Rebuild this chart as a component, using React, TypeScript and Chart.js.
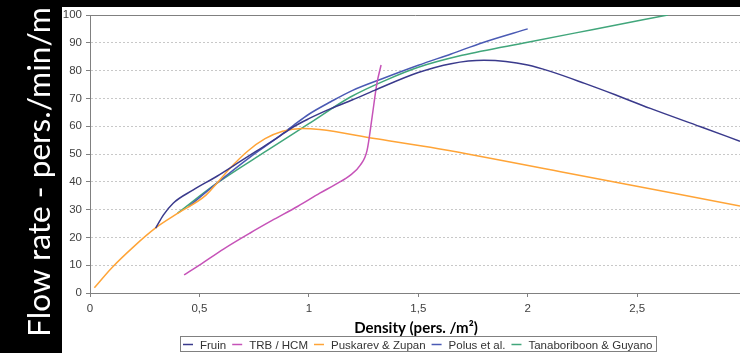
import React, { useEffect, useRef } from 'react';
import { Chart, registerables } from 'chart.js';

Chart.register(...registerables);

// ---- data ----
const seriesLabels = ['Fruin', 'TRB / HCM', 'Puskarev & Zupan', 'Polus et al.', 'Tanaboriboon & Guyano'];
const seriesColors = ['#3a3a8c', '#c653b8', '#ffa437', '#4a5ab4', '#41a67b'];

const fruinX = [0.30, 0.335, 0.38, 0.47, 0.58, 0.69, 0.76, 0.85, 0.93, 1.0, 1.1, 1.2, 1.3, 1.5, 1.65, 1.8, 1.9, 2.0, 2.1, 2.26, 2.4, 2.56, 2.79, 2.97];
const fruinY = [23.3, 28, 32.3, 37, 42, 47.5, 51, 55.5, 59.8, 62.7, 66.3, 69.5, 72.9, 79.3, 82.5, 83.7, 83.3, 82, 79.8, 75.4, 71.3, 66.4, 59.8, 54.6];

const trbX = [0.43, 0.5, 0.61, 0.73, 0.83, 0.95, 1.05, 1.12, 1.19, 1.235, 1.266, 1.289, 1.311, 1.33];
const trbY = [6.5, 10, 15.8, 21.5, 26, 31.2, 35.9, 39, 42.4, 46, 51.3, 63.3, 75.4, 82];

const puskX = [0.02, 0.1, 0.2, 0.3, 0.4, 0.53, 0.58, 0.64, 0.72, 0.8, 0.88, 0.97, 1.05, 1.3, 1.555, 2.15, 2.97];
const puskY = [1.9, 9.1, 16.7, 23.4, 28.6, 35.2, 39.5, 44.9, 51, 55.5, 58.2, 59.2, 58.8, 55.6, 52.4, 43.6, 31.3];

const polusX = [0.45, 0.58, 0.73, 0.85, 0.93, 1.0, 1.1, 1.2, 1.35, 1.5, 1.65, 1.8, 2.0];
const polusY = [31, 39.5, 48.8, 55.5, 60.3, 64.3, 68.8, 72.9, 77.5, 81.9, 86, 90.2, 95];

const tanX = [0.4, 0.58, 0.81, 1.0, 1.19, 1.35, 1.5, 1.7, 2.0, 2.3, 2.64];
const tanY = [28.7, 39.5, 51.3, 60.9, 70.5, 76.5, 81.2, 85.5, 90.2, 94.8, 100];

const seriesX = [fruinX, trbX, puskX, polusX, tanX];
const seriesY = [fruinY, trbY, puskY, polusY, tanY];

const xTitle = 'Density (pers. /m²)';
const yTitle = 'Flow rate - pers./min/m';

const decorPlugin = {
  id: 'decor',
  beforeDraw(chart: any) {
    const { ctx, width, height } = chart;
    ctx.save();
    ctx.fillStyle = '#ffffff';
    ctx.fillRect(0, 0, width, height);
    ctx.fillStyle = '#000000';
    ctx.fillRect(0, 0, 62, height);
    ctx.fillRect(0, 0, width, 7);
    ctx.restore();
  },
  afterDraw(chart: any) {
    const { ctx } = chart;
    // y title
    ctx.save();
    ctx.font = '30px Lato';
    const w = ctx.measureText(yTitle).width;
    const size = (30 * 330) / w;
    ctx.font = `${size}px Lato`;
    ctx.translate(50, 172);
    ctx.rotate(-Math.PI / 2);
    ctx.fillStyle = '#ffffff';
    ctx.textAlign = 'center';
    ctx.textBaseline = 'alphabetic';
    ctx.fillText(yTitle, 0, 0);
    ctx.restore();

    // x title
    ctx.save();
    ctx.font = 'bold 15px Lato';
    ctx.fillStyle = '#000000';
    ctx.textAlign = 'center';
    ctx.textBaseline = 'alphabetic';
    ctx.fillText(xTitle, 416, 333);
    ctx.restore();

    // legend
    ctx.save();
    ctx.font = '11.5px "Liberation Sans"';
    const lineLen = 10;
    const gapAfterLine = 7;
    const gapAfterText = 6;
    const widths = chart.data.datasets.map((d: any) => ctx.measureText(d.label).width);
    let total = 3;
    widths.forEach((tw: number) => { total += lineLen + gapAfterLine + tw + gapAfterText; });
    total = total - gapAfterText + 3;
    const boxLeft = Math.round(418 - total / 2);
    ctx.strokeStyle = '#808080';
    ctx.lineWidth = 1;
    ctx.strokeRect(boxLeft + 0.5, 336.5, Math.round(total), 15);
    let x = boxLeft + 3;
    chart.data.datasets.forEach((d: any, i: number) => {
      ctx.strokeStyle = d.borderColor;
      ctx.lineWidth = 1.5;
      ctx.beginPath();
      ctx.moveTo(x, 344.5);
      ctx.lineTo(x + lineLen, 344.5);
      ctx.stroke();
      x += lineLen + gapAfterLine;
      ctx.fillStyle = '#333333';
      ctx.textBaseline = 'alphabetic';
      ctx.fillText(d.label, x, 349);
      x += widths[i] + gapAfterText;
    });
    ctx.restore();
  },
};

export default function App() {
  const canvasRef = useRef<HTMLCanvasElement | null>(null);

  useEffect(() => {
    if (!canvasRef.current) return;
    const datasets = seriesLabels.map((label, i) => ({
      label,
      data: seriesX[i].map((x, j) => ({ x, y: seriesY[i][j] })),
      borderColor: seriesColors[i],
      backgroundColor: seriesColors[i],
      borderWidth: 1.5,
      pointRadius: 0,
      showLine: true,
      fill: false,
      cubicInterpolationMode: 'monotone' as const,
    }));
    const chart = new Chart(canvasRef.current, {
      type: 'scatter',
      data: { datasets },
      plugins: [decorPlugin],
      options: {
        animation: false,
        responsive: false,
        maintainAspectRatio: false,
        layout: { padding: { top: 15, left: 0, right: 0, bottom: 0 } },
        plugins: {
          legend: { display: false },
          tooltip: { enabled: false },
          title: { display: false },
        },
        scales: {
          x: {
            type: 'linear',
            min: 0,
            max: 2.97,
            afterFit: (scale: any) => { scale.height = 60; },
            ticks: {
              stepSize: 0.5,
              includeBounds: false,
              padding: 5,
              color: '#404040',
              font: { family: '"Liberation Sans"', size: 11.5 },
              callback: (v: any) => String(v).replace('.', ','),
            },
            grid: {
              display: true,
              drawOnChartArea: false,
              drawTicks: true,
              tickLength: 4,
              tickColor: '#808080',
            },
            border: { display: true, color: '#808080', width: 1 },
          },
          y: {
            type: 'linear',
            min: 0,
            max: 100,
            afterFit: (scale: any) => { scale.width = 90; },
            ticks: {
              stepSize: 10,
              padding: 4,
              color: '#404040',
              font: { family: '"Liberation Sans"', size: 11.5 },
            },
            grid: {
              display: true,
              drawOnChartArea: true,
              drawTicks: true,
              tickLength: 4,
              tickColor: '#808080',
              lineWidth: 1,
              color: (c: any) => (c.tick && c.tick.value === 100 ? '#808080' : '#c8c8c8'),
            },
            border: {
              display: true,
              color: '#808080',
              width: 1,
              dash: (c: any) => (c.tick && c.tick.value === 100 ? [] : [2, 2]),
            },
          },
        },
      },
    });
    return () => { chart.destroy(); };
  }, []);

  return (
    <div style={{ position: 'absolute', left: 0, top: 0, width: 740, height: 353 }}>
      <canvas ref={canvasRef} width={740} height={353} style={{ width: 740, height: 353, display: 'block' }} />
    </div>
  );
}
